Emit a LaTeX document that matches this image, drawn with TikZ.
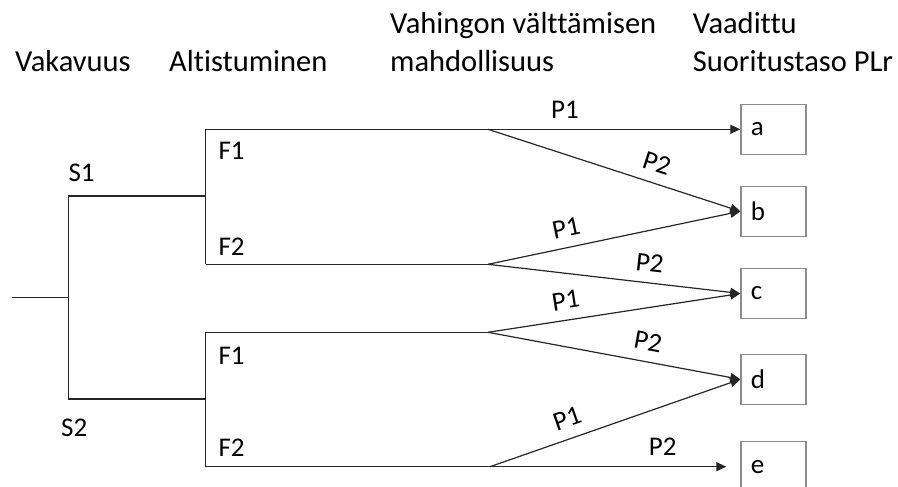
\documentclass[tikz,border=0pt]{standalone}
\usepackage{fontspec}
\setmainfont[Ligatures=CommonOff]{Carlito}
\usetikzlibrary{arrows.meta}
\begin{document}
\begin{tikzpicture}[x=1pt,y=-1pt,
  head/.style={anchor=base west, inner sep=0pt, align=left,
    font=\fontsize{30.5}{38.4}\selectfont},
  lbl/.style={anchor=base west, inner sep=0pt, font=\fontsize{27}{32}\selectfont},
  branch/.style={line width=1.2pt, draw=black!85},
  arr/.style={branch, -{Triangle[length=10pt,width=9pt]}},
  plabel/.style={sloped, above=9.5pt, inner sep=1pt, font=\fontsize{27}{32}\selectfont},
  levelbox/.style={draw=black!45, line width=1.2pt, minimum height=50pt,
    text width=45pt, inner xsep=10pt, inner ysep=0pt, align=left,
    font=\fontsize{27}{32}\selectfont}
]
\useasboundingbox (0,0) rectangle (898,487);
\clip (0,0) rectangle (898,487);

% column headings
\node[head] (hS) at (15,71.7) {Vakavuus};
\node[head] (hF) at (169,71.7) {Altistuminen};
\node[head] (hP) at (390,71.7) {Vahingon välttämisen\\mahdollisuus};
\node[head] (hR) at (692.7,71.7) {Vaadittu\\Suoritustaso PLr};

% required performance levels
\node[levelbox] (a) at (773.4,129.3) {a};
\node[levelbox] (b) at (773.4,211.3) {b};
\node[levelbox] (c) at (773.4,293.5) {c};
\node[levelbox] (d) at (773.4,379.3) {d};
\node[levelbox] (e) at (773.4,466.7) {e};

% branch points
\coordinate (root) at (11.7,297.7);
\coordinate (sj) at (68.3,297.7);
\coordinate (s1) at (68.3,196);
\coordinate (s2) at (68.3,399);
\coordinate (f1) at (205.7,196);
\coordinate (f2) at (205.7,399);
\coordinate (u1) at (205.7,129.3);
\coordinate (u2) at (205.7,264.3);
\coordinate (l1) at (205.7,332.3);
\coordinate (l2) at (205.7,466.7);
\coordinate (p1) at (488,129.3);
\coordinate (p2) at (488,264.3);
\coordinate (p3) at (488,332.3);
\coordinate (p4) at (490,466.7);

% severity
\draw[branch] (root) -- (sj);
\draw[branch] (s1) -- (s2);
\draw[branch] (s1) -- (f1);
\draw[branch] (s2) -- (f2);
\node[lbl] (S1) at (68.3,181.7) {S1};
\node[lbl] (S2) at (61,436) {S2};

% exposure
\draw[branch] (u1) -- (u2);
\draw[branch] (u1) -- (p1);
\draw[branch] (u2) -- (p2);
\draw[branch] (l1) -- (l2);
\draw[branch] (l1) -- (p3);
\draw[branch] (l2) -- (p4);
\node[lbl] (F1a) at (218.3,159.3) {F1};
\node[lbl] (F2a) at (218.3,255) {F2};
\node[lbl] (F1b) at (218.3,364.3) {F1};
\node[lbl] (F2b) at (218.3,456.7) {F2};

% avoidance possibility
\draw[arr] (p1) -- node[plabel, pos=0.305] {P1} (a.west);
\draw[arr] (p1) -- node[plabel, pos=0.645] {P2} (b.west);
\draw[arr] (p2) -- node[plabel, pos=0.326] {P1} (b.west);
\draw[arr] (p2) -- node[plabel, pos=0.632] {P2} (c.west);
\draw[arr] (p3) -- node[plabel, pos=0.32] {P1} (c.west);
\draw[arr] (p3) -- node[plabel, pos=0.62] {P2} (d.west);
\draw[arr] (p4) -- node[plabel, pos=0.334] {P1} (d.west);
\draw[arr, shorten >=14pt] (p4) -- node[plabel, pos=0.69] {P2} (e.west);
\end{tikzpicture}
\end{document}
